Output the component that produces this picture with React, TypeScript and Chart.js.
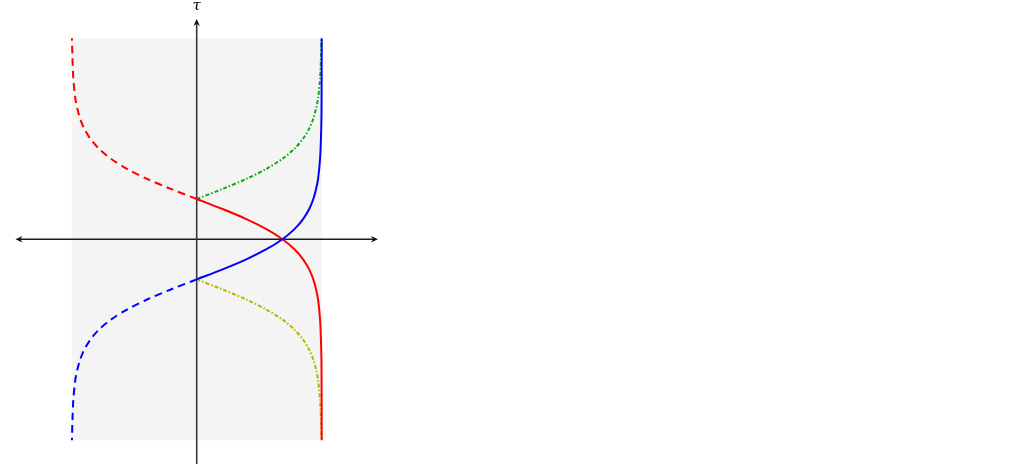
import React, { useEffect, useRef } from "react";
import { Chart, registerables } from "chart.js";

Chart.register(...registerables);

// tau values (vertical) and x values (horizontal) for each curve
const tauBlueSolid = [-1, -0.75, -0.5, -0.25, 0, 0.25, 0.5, 0.75, 1, 1.25, 1.5, 2, 2.5, 3, 3.5, 4, 5];
const xBlueSolid = [0, 0.207, 0.397, 0.558, 0.686, 0.782, 0.851, 0.9, 0.933, 0.955, 0.971, 0.987, 0.994, 0.998, 0.999, 0.9996, 0.9999];

const tauRedSolid = [1, 0.75, 0.5, 0.25, 0, -0.25, -0.5, -0.75, -1, -1.25, -1.5, -2, -2.5, -3, -3.5, -4, -5];
const xRedSolid = [0, 0.207, 0.397, 0.558, 0.686, 0.782, 0.851, 0.9, 0.933, 0.955, 0.971, 0.987, 0.994, 0.998, 0.999, 0.9996, 0.9999];

const tauBlueDashed = [-1, -1.25, -1.5, -1.75, -2, -2.25, -2.5, -2.75, -3, -3.25, -3.5, -4, -4.5, -5];
const xBlueDashed = [0, -0.207, -0.397, -0.558, -0.686, -0.782, -0.851, -0.9, -0.933, -0.955, -0.971, -0.987, -0.994, -0.998];

const tauRedDashed = [1, 1.25, 1.5, 1.75, 2, 2.25, 2.5, 2.75, 3, 3.25, 3.5, 4, 4.5, 5];
const xRedDashed = [0, -0.207, -0.397, -0.558, -0.686, -0.782, -0.851, -0.9, -0.933, -0.955, -0.971, -0.987, -0.994, -0.998];

const tauGreen = [1, 1.25, 1.5, 1.75, 2, 2.25, 2.5, 2.75, 3, 3.25, 3.5, 4, 4.5, 5];
const xGreen = [0, 0.207, 0.397, 0.558, 0.686, 0.782, 0.851, 0.9, 0.933, 0.955, 0.971, 0.987, 0.994, 0.998];

const tauOlive = [-1, -1.25, -1.5, -1.75, -2, -2.25, -2.5, -2.75, -3, -3.25, -3.5, -4, -4.5, -5];
const xOlive = [0, 0.207, 0.397, 0.558, 0.686, 0.782, 0.851, 0.9, 0.933, 0.955, 0.971, 0.987, 0.994, 0.998];

// shaded region and axes extents (data units)
const shadeX = [-1, 1];
const shadeTau = [-5, 5];
const axisX = [-1.45, 1.45];
const axisTau = [-5.7, 5.48];
const axisLabel = "τ";

const pts = (xs: number[], ts: number[]) => xs.map((x, i) => ({ x, y: ts[i] }));

const decorPlugin = {
  id: "decor",
  beforeDatasetsDraw(chart: any) {
    const { ctx, scales } = chart;
    const sx = scales.x;
    const sy = scales.y;
    ctx.save();
    const x0 = sx.getPixelForValue(shadeX[0]);
    const x1 = sx.getPixelForValue(shadeX[1]);
    const y0 = sy.getPixelForValue(shadeTau[1]);
    const y1 = sy.getPixelForValue(shadeTau[0]);
    ctx.fillStyle = "#f4f4f4";
    ctx.fillRect(x0, y0, x1 - x0, y1 - y0);

    const ox = sx.getPixelForValue(0);
    const oy = sy.getPixelForValue(0);
    const ax0 = sx.getPixelForValue(axisX[0]);
    const ax1 = sx.getPixelForValue(axisX[1]);
    const ayTop = sy.getPixelForValue(axisTau[1]);
    const ayBot = sy.getPixelForValue(axisTau[0]);

    ctx.strokeStyle = "#1a1a1a";
    ctx.fillStyle = "#111";
    ctx.lineWidth = 1.4;
    ctx.beginPath();
    ctx.moveTo(ax0 + 3, oy);
    ctx.lineTo(ax1 - 3, oy);
    ctx.stroke();
    ctx.strokeStyle = "#3a3a3a";
    ctx.lineWidth = 1.6;
    ctx.beginPath();
    ctx.moveTo(ox, ayBot);
    ctx.lineTo(ox, ayTop + 3);
    ctx.stroke();

    const arrow = (tx: number, ty: number, dx: number, dy: number) => {
      const L = 7;
      const W = 3.2;
      const px = -dy;
      const py = dx;
      ctx.beginPath();
      ctx.moveTo(tx, ty);
      ctx.lineTo(tx - dx * L + px * W, ty - dy * L + py * W);
      ctx.lineTo(tx - dx * L * 0.7, ty - dy * L * 0.7);
      ctx.lineTo(tx - dx * L - px * W, ty - dy * L - py * W);
      ctx.closePath();
      ctx.fill();
    };
    arrow(ax1, oy, 1, 0);
    arrow(ax0, oy, -1, 0);
    arrow(ox, ayTop, 0, -1);

    ctx.fillStyle = "#000";
    ctx.font = "italic 15px 'DejaVu Serif', serif";
    ctx.textAlign = "center";
    ctx.textBaseline = "middle";
    ctx.fillText(axisLabel, ox, 6);
    ctx.restore();
  },
};

export default function App() {
  const ref = useRef<HTMLCanvasElement | null>(null);
  useEffect(() => {
    if (!ref.current) return;
    const common = { pointRadius: 0, borderWidth: 2, tension: 0.3, showLine: true, fill: false };
    const chart = new Chart(ref.current, {
      type: "scatter",
      data: {
        datasets: [
          { ...common, data: pts(xBlueSolid, tauBlueSolid), borderColor: "#0000ff" },
          { ...common, data: pts(xRedSolid, tauRedSolid), borderColor: "#ff0000" },
          { ...common, data: pts(xBlueDashed, tauBlueDashed), borderColor: "#0000ff", borderDash: [7.5, 5] },
          { ...common, data: pts(xRedDashed, tauRedDashed), borderColor: "#ff0000", borderDash: [7.5, 5] },
          { ...common, data: pts(xGreen, tauGreen), borderColor: "#13a813", borderDash: [4, 2, 1.5, 2] },
          { ...common, data: pts(xOlive, tauOlive), borderColor: "#b3b300", borderDash: [4, 2, 1.5, 2] },
        ],
      },
      options: {
        animation: false,
        responsive: false,
        events: [],
        layout: { padding: 0 },
        plugins: { legend: { display: false }, tooltip: { enabled: false } },
        scales: {
          x: { type: "linear", display: false, min: -1.5736, max: 6.5864 },
          y: { type: "linear", display: false, min: -5.592, max: 5.95 },
        },
      },
      plugins: [decorPlugin],
    } as any);
    return () => chart.destroy();
  }, []);
  return (
    <div style={{ position: "fixed", left: 0, top: 0, width: 1020, height: 464, background: "#fff" }}>
      <canvas ref={ref} width={1020} height={464} style={{ display: "block" }} />
    </div>
  );
}
